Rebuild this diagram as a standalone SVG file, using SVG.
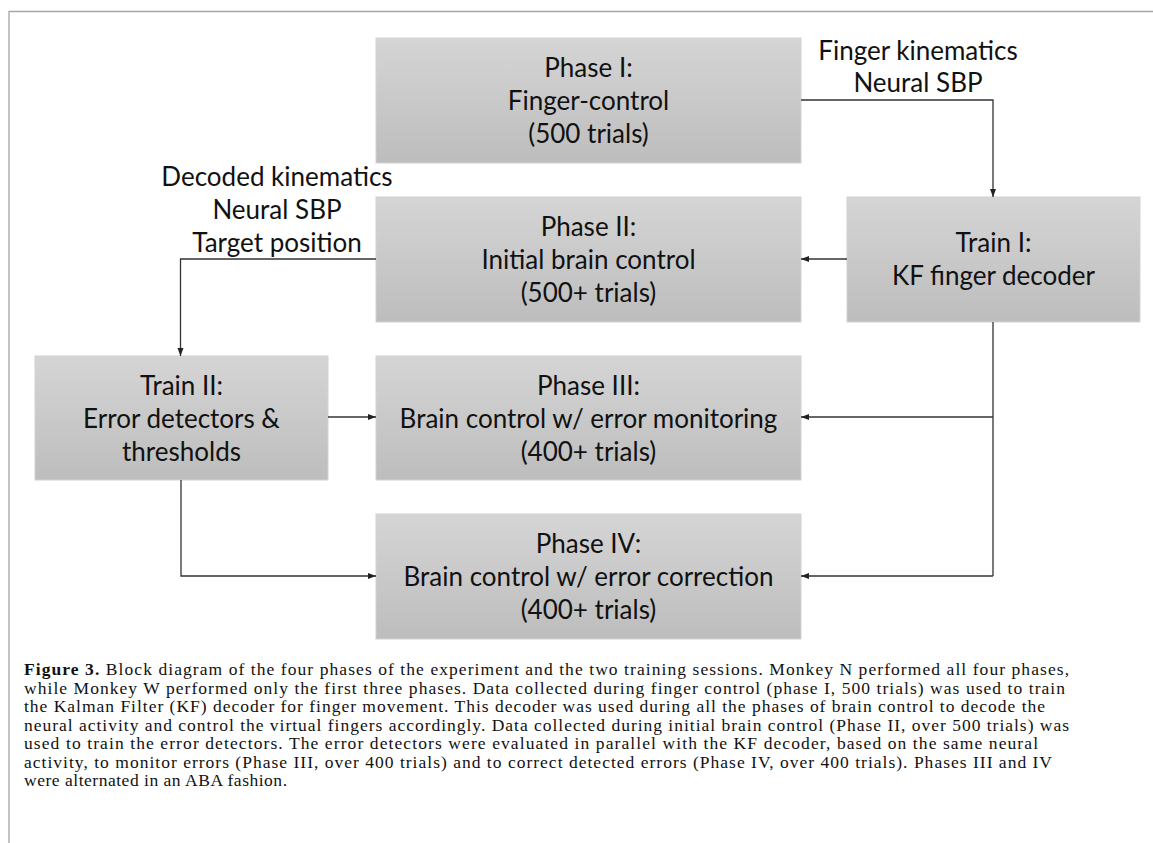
<svg xmlns="http://www.w3.org/2000/svg" width="1153" height="843" viewBox="0 0 1153 843">
<style>
.box{fill:url(#g);stroke:#d2d2d2;stroke-width:1}
.t{font-family:Lato,"Open Sans",sans-serif;font-size:26px;fill:#111;text-anchor:middle}
.lbl{font-family:Lato,"Open Sans",sans-serif;font-size:26px;fill:#111;text-anchor:middle}
.c{fill:none;stroke:#333;stroke-width:1.3}
.cap{font-family:"Liberation Serif","Times New Roman",serif;font-size:17.5px;fill:#111}
.frame{fill:none;stroke:#a6a6a6;stroke-width:1.3}
</style>
<defs>
<linearGradient id="g" x1="0" y1="0" x2="0" y2="1">
<stop offset="0" stop-color="#d5d5d5"/>
<stop offset="1" stop-color="#bdbdbd"/>
</linearGradient>
<marker id="a" viewBox="0 0 8 8" refX="8" refY="4" markerWidth="8" markerHeight="8" markerUnits="userSpaceOnUse" orient="auto">
<path d="M0,1 L8,4 L0,7 Z" fill="#222"/>
</marker>
</defs>
<rect width="1153" height="843" fill="#fff"/>
<path class="frame" d="M9,843 V11.5 H1153"/>

<g id="phase1">
<rect class="box" x="376" y="38" width="425" height="125"/>
<text class="t" x="588.5" y="77">Phase I:</text>
<text class="t" x="588.5" y="110">Finger-control</text>
<text class="t" x="588.5" y="143">(500 trials)</text>
</g>
<g id="phase2">
<rect class="box" x="376" y="197" width="425" height="125"/>
<text class="t" x="588.5" y="236">Phase II:</text>
<text class="t" x="588.5" y="269">Initial brain control</text>
<text class="t" x="588.5" y="302">(500+ trials)</text>
</g>
<g id="phase3">
<rect class="box" x="376" y="356" width="425" height="124"/>
<text class="t" x="588.5" y="395">Phase III:</text>
<text class="t" x="588.5" y="428">Brain control w/ error monitoring</text>
<text class="t" x="588.5" y="461">(400+ trials)</text>
</g>
<g id="phase4">
<rect class="box" x="376" y="514" width="425" height="125"/>
<text class="t" x="588.5" y="553">Phase IV:</text>
<text class="t" x="588.5" y="586">Brain control w/ error correction</text>
<text class="t" x="588.5" y="619">(400+ trials)</text>
</g>
<g id="train1">
<rect class="box" x="847" y="197" width="293" height="125"/>
<text class="t" x="993.5" y="252">Train I:</text>
<text class="t" x="993.5" y="285">KF finger decoder</text>
</g>
<g id="train2">
<rect class="box" x="35" y="356" width="293" height="124"/>
<text class="t" x="181.5" y="395">Train II:</text>
<text class="t" x="181.5" y="428">Error detectors &amp;</text>
<text class="t" x="181.5" y="461">thresholds</text>
</g>

<g id="connectors">
<path class="c" d="M801,100 H993 V197" marker-end="url(#a)"/>
<path class="c" d="M847,259 H801" marker-end="url(#a)"/>
<path class="c" d="M376,259 H180.5 V356" marker-end="url(#a)"/>
<path class="c" d="M328,417 H376" marker-end="url(#a)"/>
<path class="c" d="M993,322 V576"/>
<path class="c" d="M993,417 H801" marker-end="url(#a)"/>
<path class="c" d="M993,576 H801" marker-end="url(#a)"/>
<path class="c" d="M181,480 V576 H376" marker-end="url(#a)"/>
<text class="lbl" x="918" y="60">Finger kinematics</text>
<text class="lbl" x="918" y="92">Neural SBP</text>
<text class="lbl" x="277" y="186">Decoded kinematics</text>
<text class="lbl" x="277" y="219">Neural SBP</text>
<text class="lbl" x="277" y="252">Target position</text>
</g>

<g id="caption">
<text class="cap" x="24" y="675" textLength="1045" lengthAdjust="spacing"><tspan font-weight="bold">Figure 3.</tspan> Block diagram of the four phases of the experiment and the two training sessions. Monkey N performed all four phases,</text>
<text class="cap" x="24" y="693.5" textLength="1041" lengthAdjust="spacing">while Monkey W performed only the first three phases. Data collected during finger control (phase I, 500 trials) was used to train</text>
<text class="cap" x="24" y="712" textLength="1021" lengthAdjust="spacing">the Kalman Filter (KF) decoder for finger movement. This decoder was used during all the phases of brain control to decode the</text>
<text class="cap" x="24" y="730.5" textLength="1045" lengthAdjust="spacing">neural activity and control the virtual fingers accordingly. Data collected during initial brain control (Phase II, over 500 trials) was</text>
<text class="cap" x="24" y="749" textLength="1014" lengthAdjust="spacing">used to train the error detectors. The error detectors were evaluated in parallel with the KF decoder, based on the same neural</text>
<text class="cap" x="24" y="767.5" textLength="1028" lengthAdjust="spacing">activity, to monitor errors (Phase III, over 400 trials) and to correct detected errors (Phase IV, over 400 trials). Phases III and IV</text>
<text class="cap" x="24" y="786" textLength="263" lengthAdjust="spacing">were alternated in an ABA fashion.</text>
</g>
</svg>
